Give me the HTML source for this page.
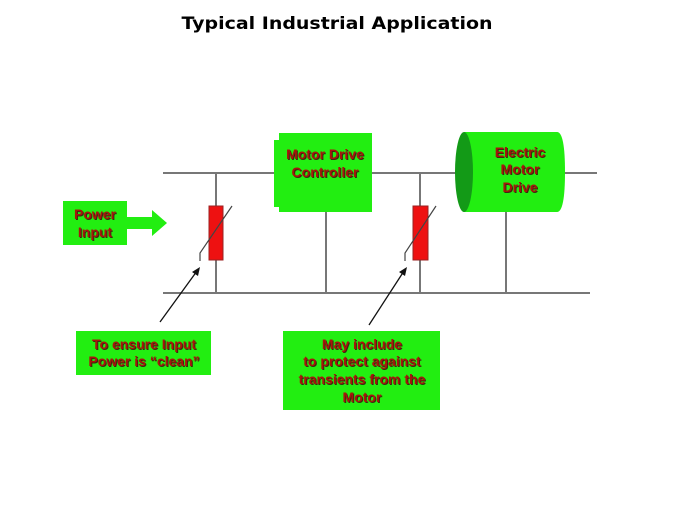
<!DOCTYPE html>
<html><head><meta charset="utf-8"><style>
html,body{margin:0;padding:0;background:#fff;}
svg{display:block;}
.t{font-family:"Liberation Sans",Arial,sans-serif;font-weight:bold;font-size:14px;fill:#a8150c;text-anchor:middle;}
.s{font-family:"Liberation Sans",Arial,sans-serif;font-weight:bold;font-size:14px;fill:#3a2a10;text-anchor:middle;}
</style></head><body>
<svg width="675" height="506" viewBox="0 0 675 506" xmlns="http://www.w3.org/2000/svg">
<text x="337" y="29" font-family="DejaVu Sans,Verdana,sans-serif" font-weight="bold" font-size="17" text-anchor="middle" textLength="311" lengthAdjust="spacingAndGlyphs" fill="#000">Typical Industrial Application</text>
<g stroke="#777" stroke-width="2" fill="none">
<line x1="163" y1="173" x2="597" y2="173"/>
<line x1="163" y1="293" x2="590" y2="293"/>
<line x1="216" y1="173" x2="216" y2="293"/>
<line x1="420" y1="173" x2="420" y2="293"/>
<line x1="326" y1="210" x2="326" y2="293"/>
<line x1="506" y1="210" x2="506" y2="293"/>
</g>
<path d="M279,133 H372 V212 H279 V207 H274 V140 H279 Z" fill="#22ee11"/>
<text class="s" x="326" y="160">Motor Drive</text><text class="t" x="325" y="159">Motor Drive</text>
<text class="s" x="326" y="178">Controller</text><text class="t" x="325" y="177">Controller</text>
<path d="M464,132 H557 Q565,132 565,172 Q565,212 557,212 H464 Z" fill="#22ee11"/>
<ellipse cx="464" cy="172" rx="9" ry="40" fill="#139a17"/>
<text class="s" x="521" y="158">Electric</text><text class="t" x="520" y="157">Electric</text>
<text class="s" x="521" y="175">Motor</text><text class="t" x="520" y="174">Motor</text>
<text class="s" x="521" y="193">Drive</text><text class="t" x="520" y="192">Drive</text>
<rect x="209" y="206" width="14" height="54" fill="#ee1111" stroke="#992222" stroke-width="1"/>
<rect x="413" y="206" width="15" height="54" fill="#ee1111" stroke="#992222" stroke-width="1"/>
<g stroke="#444" stroke-width="1.2" fill="none">
<polyline points="200,261 200,253 232,206"/>
<polyline points="405,261 405,253 436,206"/>
</g>
<rect x="63" y="201" width="64" height="44" fill="#22ee11"/>
<path d="M127,217 H152 V210 L167,223 L152,236 V229 H127 Z" fill="#22ee11"/>
<text class="s" x="96" y="220">Power</text><text class="t" x="95" y="219">Power</text>
<text class="s" x="96" y="238">Input</text><text class="t" x="95" y="237">Input</text>
<g stroke="#111" stroke-width="1.3">
<line x1="160" y1="322" x2="197" y2="271"/>
<line x1="369" y1="325" x2="404" y2="271"/>
</g>
<polygon points="200,267 192,272 198,276" fill="#111"/>
<polygon points="407,267 399,272 405,276" fill="#111"/>
<rect x="76" y="331" width="135" height="44" fill="#22ee11"/>
<text class="s" x="145" y="350">To ensure Input</text><text class="t" x="144" y="349">To ensure Input</text>
<text class="s" x="145" y="367">Power is “clean”</text><text class="t" x="144" y="366">Power is “clean”</text>
<rect x="283" y="331" width="157" height="79" fill="#22ee11"/>
<text class="s" x="363" y="350">May include</text><text class="t" x="362" y="349">May include</text>
<text class="s" x="363" y="367">to protect against</text><text class="t" x="362" y="366">to protect against</text>
<text class="s" x="363" y="385">transients from the</text><text class="t" x="362" y="384">transients from the</text>
<text class="s" x="363" y="403">Motor</text><text class="t" x="362" y="402">Motor</text>
</svg>
</body></html>
